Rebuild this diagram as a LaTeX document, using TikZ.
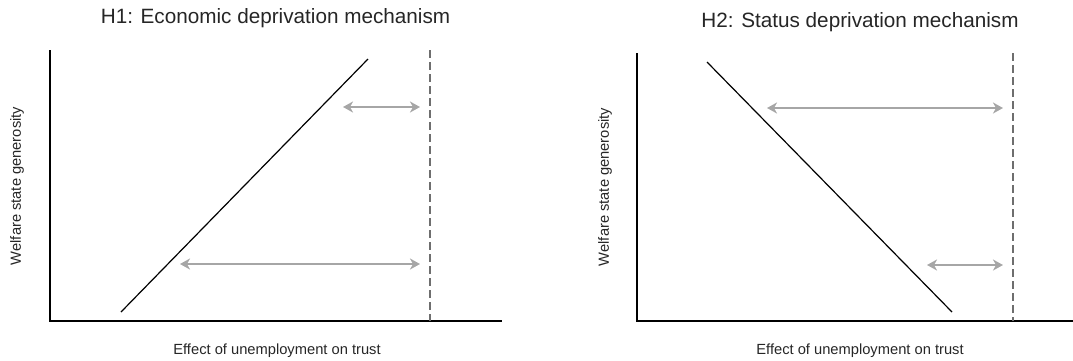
\documentclass[tikz,border=0pt]{standalone}
\usepackage{fontspec}
\setmainfont{Liberation Sans}
\usetikzlibrary{arrows.meta}
\definecolor{refgray}{HTML}{6E6E6E}
\definecolor{arrowgray}{HTML}{A6A6A6}
\begin{document}
\begin{tikzpicture}[x=1pt,y=-1pt,
  axis/.style={line width=2pt, black, line join=miter},
  trend/.style={line width=1.2pt, black},
  refline/.style={line width=1.5pt, refgray, dash pattern=on 8pt off 4pt},
  gap/.style={line width=2.8pt, arrowgray,
    {Stealth[length=10pt,width=11pt,inset=3pt]}-{Stealth[length=10pt,width=11pt,inset=3pt]}},
  title/.style={font=\fontsize{20.7}{24}\selectfont, inner sep=0pt, text=black!85},
  lab/.style={font=\fontsize{14.7}{17}\selectfont, inner sep=0pt, text=black!85},
]
\useasboundingbox (0,0) rectangle (1073,360);

% ---------- Left panel ----------
\node[title] (t1) at (275.5,18) {H1: Economic deprivation mechanism};
\node[lab, rotate=90] (y1) at (17,186) {Welfare state generosity};
\node[lab] (x1) at (277,351) {Effect of unemployment on trust};

\coordinate (o1) at (50,321);
\coordinate (ytop1) at (50,50);
\coordinate (xend1) at (502,321);
\draw[axis] (ytop1) -- (o1) -- (xend1);

\coordinate (d1a) at (430,50);
\coordinate (d1b) at (430,321);
\draw[refline] (d1a) -- (d1b);

\coordinate (l1a) at (121,312);
\coordinate (l1b) at (368,59);
\draw[trend] (l1a) -- (l1b);

\coordinate (a1l) at (343,107);
\coordinate (a1r) at (420,107);
\draw[gap] (a1l) -- (a1r);
\coordinate (b1l) at (180,264);
\coordinate (b1r) at (420,264);
\draw[gap] (b1l) -- (b1r);

% ---------- Right panel ----------
\node[title] (t2) at (860,22) {H2: Status deprivation mechanism};
\node[lab, rotate=90] (y2) at (605,187) {Welfare state generosity};
\node[lab] (x2) at (860,351) {Effect of unemployment on trust};

\coordinate (o2) at (637,321);
\coordinate (ytop2) at (637,53);
\coordinate (xend2) at (1073,321);
\draw[axis] (ytop2) -- (o2) -- (xend2);

\coordinate (d2a) at (1013,53);
\coordinate (d2b) at (1013,321);
\draw[refline] (d2a) -- (d2b);

\coordinate (l2a) at (707,62);
\coordinate (l2b) at (952,312);
\draw[trend] (l2a) -- (l2b);

\coordinate (a2l) at (767,108);
\coordinate (a2r) at (1003,108);
\draw[gap] (a2l) -- (a2r);
\coordinate (b2l) at (927,265);
\coordinate (b2r) at (1003,265);
\draw[gap] (b2l) -- (b2r);
\end{tikzpicture}
\end{document}
